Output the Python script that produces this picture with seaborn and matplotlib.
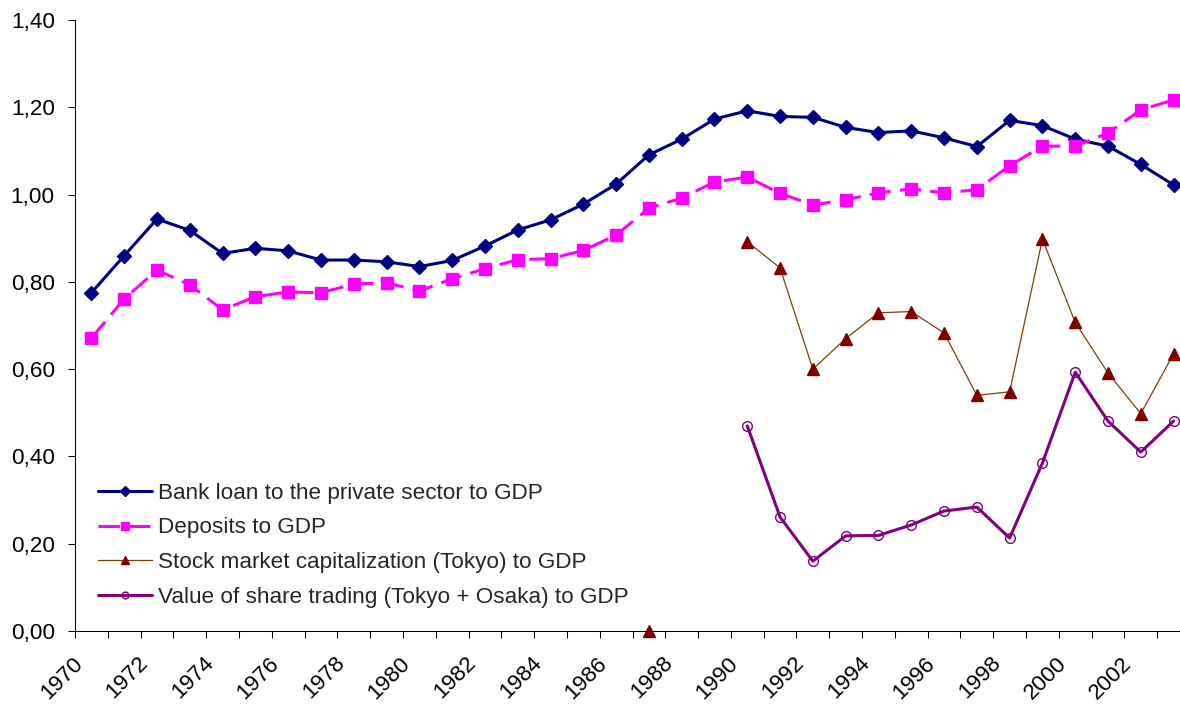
import numpy as np
import pandas as pd
import matplotlib
matplotlib.use("Agg")
import matplotlib.pyplot as plt
import matplotlib.transforms as mtransforms
from matplotlib.ticker import FuncFormatter
import seaborn as sns

# data (ratios to GDP)
years = list(range(1970, 2004))
bank_loan = [0.775, 0.860, 0.944, 0.918, 0.865, 0.877, 0.871, 0.850, 0.850, 0.846,
             0.835, 0.849, 0.882, 0.919, 0.942, 0.978, 1.024, 1.091, 1.127, 1.173,
             1.192, 1.179, 1.177, 1.154, 1.142, 1.146, 1.130, 1.110, 1.170, 1.158,
             1.127, 1.111, 1.069, 1.022]
deposits = [0.671, 0.761, 0.827, 0.793, 0.736, 0.766, 0.777, 0.775, 0.795, 0.798,
            0.779, 0.807, 0.830, 0.851, 0.853, 0.872, 0.907, 0.969, 0.992, 1.029,
            1.040, 1.003, 0.976, 0.988, 1.004, 1.013, 1.004, 1.011, 1.066, 1.111,
            1.111, 1.141, 1.194, 1.217]
nan = np.nan
stock_cap = [nan] * 17 + [0.0, nan, nan] + [
    0.892, 0.832, 0.600, 0.670, 0.729, 0.732, 0.683, 0.540, 0.548, 0.898,
    0.707, 0.591, 0.498, 0.635]
share_trading = [nan] * 20 + [
    0.470, 0.261, 0.160, 0.218, 0.219, 0.243, 0.275, 0.284, 0.213, 0.385,
    0.593, 0.481, 0.410, 0.481]

labels = ["Bank loan to the private sector to GDP",
          "Deposits to GDP",
          "Stock market capitalization (Tokyo) to GDP",
          "Value of share trading (Tokyo + Osaka) to GDP"]

sns.set_theme(style="white")
plt.rcParams["font.family"] = ["Liberation Sans", "DejaVu Sans"]
FS = 16.2

fig = plt.figure(figsize=(11.8, 7.04), dpi=100)
ax = fig.add_axes([75 / 1180, 73 / 704, 1115 / 1180, 611 / 704])


def draw(values, label, **kw):
    df = pd.DataFrame({"x": np.arange(len(years)), "y": values})
    # gaps split the line into separate pieces
    df["seg"] = df["y"].isna().cumsum()
    df = df.dropna()
    sns.lineplot(data=df, x="x", y="y", units="seg", estimator=None, sort=False,
                 ax=ax, label=label, legend=False, clip_on=False, **kw)


draw(bank_loan, labels[0], color="#000080", lw=2.2, marker="D", ms=7,
     mec="#000080", mfc="#000080", mew=1)
draw(deposits, labels[1], color="#ff00ff", lw=2.2, ls=(0, (7, 3)), marker="s",
     ms=8, mec="#ff00ff", mfc="#ff00ff", mew=1)
draw(stock_cap, labels[2], color="#804000", lw=0.9, marker="^", ms=9,
     mec="#800000", mfc="#800000", mew=1)
draw(share_trading, labels[3], color="#800080", lw=2.2, marker="o", ms=7,
     mec="#800080", mfc="none", mew=1)

# y axis
ax.set_ylim(0, 1.4)
ax.set_yticks(np.arange(0, 1.41, 0.2))
ax.yaxis.set_major_formatter(FuncFormatter(lambda v, p: f"{v:.2f}".replace(".", ",")))
ax.tick_params(axis="y", left=True, length=5, width=0.75, pad=9.5,
               labelsize=FS, colors="black")

# x axis: category style, ticks between years
ax.set_xlim(-0.5, 33.5)
ax.set_xticks(range(0, 34, 2))
ax.set_xticklabels([str(y) for y in years[::2]])
ax.set_xticks(np.arange(-0.5, 34, 1), minor=True)
ax.tick_params(axis="x", which="major", bottom=True, length=0, pad=21,
               labelsize=FS, labelcolor="black")
ax.tick_params(axis="x", which="minor", bottom=True, length=5, width=0.75,
               color="black")
offset = mtransforms.ScaledTranslation(-12 / 100, 0, fig.dpi_scale_trans)
for lab in ax.get_xticklabels():
    lab.set_rotation(45)
    lab.set_ha("right")
    lab.set_va("center")
    lab.set_rotation_mode("anchor")
    lab.set_transform(lab.get_transform() + offset)

ax.set_xlabel("")
ax.set_ylabel("")
sns.despine(ax=ax)
for s in ("left", "bottom"):
    ax.spines[s].set_color("black")
    ax.spines[s].set_linewidth(0.75)

handles, labs = ax.get_legend_handles_labels()
seen = {}
for h, l in zip(handles, labs):
    seen.setdefault(l, h)
ax.legend([seen[l] for l in labels], labels, loc="upper left",
          bbox_to_anchor=(22.5 / 1115, 148 / 611), frameon=False,
          fontsize=FS, handlelength=2.4, handletextpad=0.3, labelspacing=0.6,
          borderpad=0, borderaxespad=0, markerscale=0.7)

fig.savefig("out.png", dpi=100)
